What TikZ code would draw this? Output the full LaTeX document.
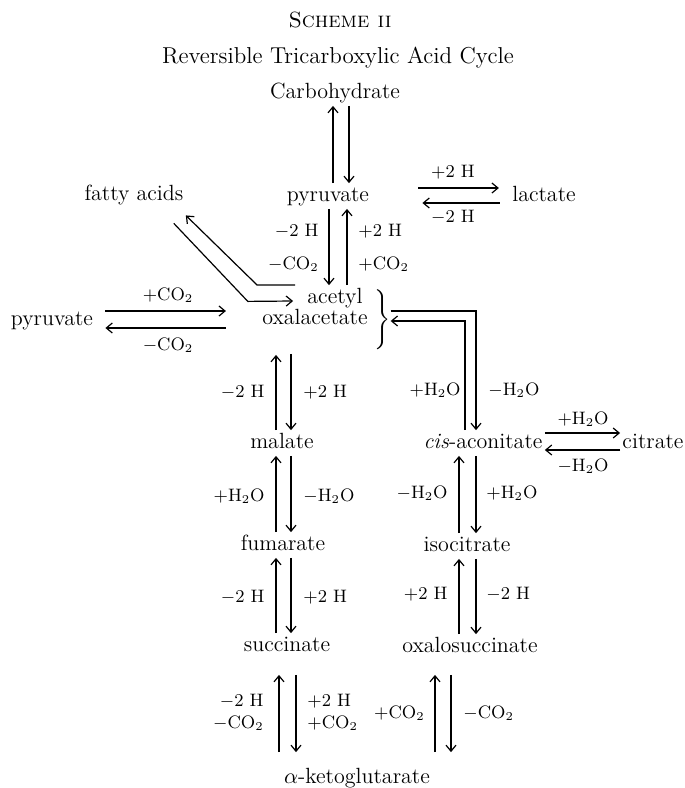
\documentclass[tikz,border=0pt]{standalone}
\usetikzlibrary{arrows.meta}
\tikzset{
  cpd/.style = {font=\fontsize{11}{13}\selectfont, inner sep=1pt,
                text height=8pt, text depth=2.5pt},
  lbl/.style = {font=\fontsize{9}{10}\selectfont, inner sep=1pt},
  rx/.style  = {-{Straight Barb[length=3pt,width=5pt]}, line width=0.6pt},
  bar/.style = {line width=0.6pt}
}
\begin{document}
\begin{tikzpicture}[x=0.5pt, y=-0.5pt]
\useasboundingbox (0,0) rectangle (685,788);

% headings
\node[font=\fontsize{11}{13}\selectfont] (title) at (340,20) {\textsc{Scheme ii}};
\node[font=\fontsize{11.5}{13}\selectfont] (subtitle) at (338,58)
      {Reversible Tricarboxylic Acid Cycle};

% compounds
\node[cpd] (carb)    at (335,93)  {Carbohydrate};
\node[cpd] (pyr)     at (328,196) {pyruvate};
\node[cpd] (fatty)   at (134,195) {fatty acids};
\node[cpd] (lact)    at (544,196) {lactate};
\node[cpd] (acetyl)  at (335,298) {acetyl};
\node[cpd] (oxal)    at (315,319) {oxalacetate};
\node[inner sep=0pt] (brace) at (381,320) {$\left.\rule[-13pt]{0pt}{26pt}\right\}$};
\node[cpd] (pyrL)    at (52,320)  {pyruvate};
\node[cpd] (malate)  at (282,443) {malate};
\node[cpd] (fum)     at (283,545) {fumarate};
\node[cpd] (succ)    at (287,646) {succinate};
\node[cpd] (akg)     at (357,778) {$\alpha$-ketoglutarate};
\node[cpd] (cisacon) at (483,443) {\textit{cis}-aconitate};
\node[cpd] (citrate) at (653,443) {citrate};
\node[cpd] (isocit)  at (467,546) {isocitrate};
\node[cpd] (oxsucc)  at (470,647) {oxalosuccinate};

% columns of the vertical pairs
\coordinate (c1u) at (333,0); \coordinate (c1d) at (349,0);
\coordinate (c2d) at (329,0); \coordinate (c2u) at (347,0);
\coordinate (lu)  at (276,0); \coordinate (ld)  at (291,0);
\coordinate (lu4) at (279,0); \coordinate (ld4) at (296,0);
\coordinate (ru)  at (459,0); \coordinate (rd)  at (476,0);
\coordinate (ru4) at (435,0); \coordinate (rd4) at (451,0);
\coordinate (bu)  at (465,0);

% carbohydrate <-> pyruvate <-> acetyl
\draw[rx] (pyr.north -| c1u) -- (carb.south -| c1u);
\draw[rx] (carb.south -| c1d) -- (pyr.north -| c1d);
\draw[rx] (pyr.south -| c2d) -- (acetyl.north -| c2d);
\draw[rx] (acetyl.north -| c2u) -- (pyr.south -| c2u);
\node[lbl, anchor=east] (pa1) at (321,231) {$-2$ H};
\node[lbl, anchor=east] (pa2) at (321,264) {$-$CO$_2$};
\node[lbl, anchor=west] (pa3) at (356,231) {$+2$ H};
\node[lbl, anchor=west] (pa4) at (356,264) {$+$CO$_2$};

% pyruvate <-> lactate
\draw[rx, shorten <=23.5pt, shorten >=5.5pt] ([yshift=4pt]pyr.east) -- ([yshift=4pt]lact.west);
\draw[rx, shorten <=5pt, shorten >=25.5pt] ([yshift=-3.5pt]lact.west) -- ([yshift=-3.5pt]pyr.east);
\node[lbl] (pl1) at (453,172) {$+2$ H};
\node[lbl] (pl2) at (453,217) {$-2$ H};

% fatty acids
\draw[rx] ([xshift=-6pt, yshift=-7.75pt]fatty.south east) -- ++(74,78)
      -- ([xshift=-6pt, yshift=-1.5pt]acetyl.west);
\draw[rx] ([xshift=-5pt, yshift=6.5pt]acetyl.west) -- ++(-38,0)
      -- ([yshift=-3.75pt]fatty.south east);

% pyruvate <-> oxalacetate
\draw[rx, shorten <=5pt, shorten >=17pt] ([yshift=4.5pt]pyrL.east) -- ([yshift=4pt]oxal.west);
\draw[rx, shorten <=17pt, shorten >=5pt] ([yshift=-4.5pt]oxal.west) -- ([yshift=-4pt]pyrL.east);
\node[lbl] (po1) at (168,295) {$+$CO$_2$};
\node[lbl] (po2) at (168,345) {$-$CO$_2$};

% acetyl + oxalacetate <-> cis-aconitate
\draw[rx] ([yshift=4.5pt]brace.east) -| (cisacon.north -| rd);
\draw[rx] (cisacon.north -| bu) |- ([yshift=-0.5pt]brace.east);
\node[lbl, anchor=east] (bc1) at (463,390) {$+$H$_2$O};
\node[lbl, anchor=west] (bc2) at (486,390) {$-$H$_2$O};

% cis-aconitate <-> citrate
\draw[rx] ([yshift=5pt]cisacon.east) -- ([yshift=5pt]citrate.west);
\draw[rx] ([yshift=-3.5pt]citrate.west) -- ([yshift=-3.5pt]cisacon.east);
\node[lbl] (cc1) at (583,419) {$+$H$_2$O};
\node[lbl] (cc2) at (583,466) {$-$H$_2$O};

% left column
\draw[rx, shorten >=11.5pt] (malate.north -| lu) -- (oxal.south -| lu);
\draw[rx, shorten <=11pt] (oxal.south -| ld) -- (malate.north -| ld);
\draw[rx] (fum.north -| lu) -- (malate.south -| lu);
\draw[rx] (malate.south -| ld) -- (fum.north -| ld);
\draw[rx] (succ.north -| lu) -- (fum.south -| lu);
\draw[rx] (fum.south -| ld) -- (succ.north -| ld);
\draw[rx, shorten <=6.5pt, shorten >=8pt] (akg.north -| lu4) -- (succ.south -| lu4);
\draw[rx, shorten <=8pt, shorten >=6.5pt] (succ.south -| ld4) -- (akg.north -| ld4);
\node[lbl, anchor=east] (lm1) at (267,392) {$-2$ H};
\node[lbl, anchor=west] (lm2) at (301,392) {$+2$ H};
\node[lbl, anchor=east] (lf1) at (267,496) {$+$H$_2$O};
\node[lbl, anchor=west] (lf2) at (301,496) {$-$H$_2$O};
\node[lbl, anchor=east] (ls1) at (267,597) {$-2$ H};
\node[lbl, anchor=west] (ls2) at (301,597) {$+2$ H};
\node[lbl, anchor=east, align=right, font=\fontsize{9}{11}\selectfont] (lk1) at (266,712)
      {$-2$ H\\$-$CO$_2$};
\node[lbl, anchor=west, align=left, font=\fontsize{9}{11}\selectfont] (lk2) at (305,712)
      {$+2$ H\\$+$CO$_2$};

% right column
\draw[rx] (isocit.north -| ru) -- (cisacon.south -| ru);
\draw[rx] (cisacon.south -| rd) -- (isocit.north -| rd);
\draw[rx] (oxsucc.north -| ru) -- (isocit.south -| ru);
\draw[rx] (isocit.south -| rd) -- (oxsucc.north -| rd);
\draw[rx, shorten <=6.5pt, shorten >=7.5pt] (akg.north -| ru4) -- (oxsucc.south -| ru4);
\draw[rx, shorten <=7.5pt, shorten >=6.5pt] (oxsucc.south -| rd4) -- (akg.north -| rd4);
\node[lbl, anchor=east] (ri1) at (450,493) {$-$H$_2$O};
\node[lbl, anchor=west] (ri2) at (484,493) {$+$H$_2$O};
\node[lbl, anchor=east] (ro1) at (450,594) {$+2$ H};
\node[lbl, anchor=west] (ro2) at (484,594) {$-2$ H};
\node[lbl, anchor=east] (rk1) at (427,713) {$+$CO$_2$};
\node[lbl, anchor=west] (rk2) at (461,713) {$-$CO$_2$};
\end{tikzpicture}
\end{document}
